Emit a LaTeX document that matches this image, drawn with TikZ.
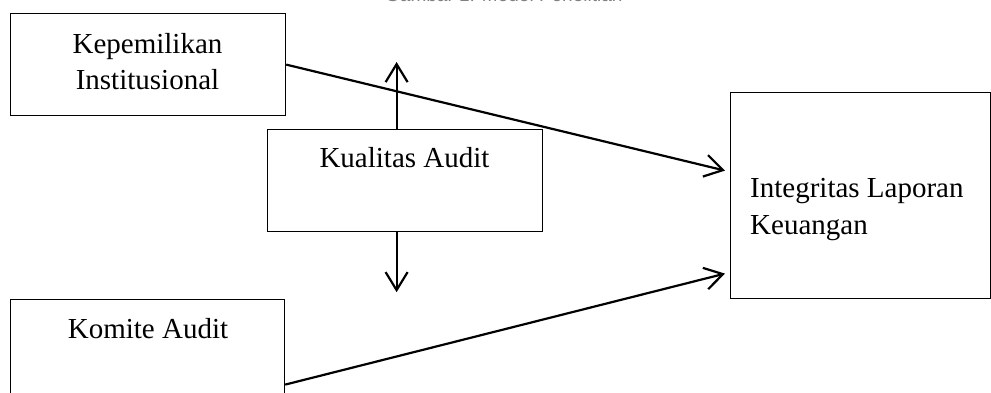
\documentclass[tikz,border=0pt]{standalone}
\usepackage{fontspec}
\setmainfont{Liberation Serif}
\newfontfamily\capfont{Liberation Sans}
\usetikzlibrary{arrows.meta}
\begin{document}
\begin{tikzpicture}[x=1pt,y=-1pt,
  box/.style={draw, line width=1.2pt, inner sep=0pt, anchor=north west},
  lbl/.style={font=\fontsize{29}{36.5}\selectfont, inner sep=0pt, anchor=base},
  conn/.style={line width=2.2pt, -{Straight Barb[length=18pt,width=22pt,line width=2.2pt]}}]
\useasboundingbox (0,0) rectangle (991,392);
% caption, mostly cut off above the page
\node[font=\capfont\fontsize{19}{22}\selectfont, text=gray, anchor=base west, inner sep=0pt] (cap) at (385,1) {Gambar 1. Model Penelitian};
% boxes
\node[box, minimum width=275pt, minimum height=102pt] (kep) at (10,13) {};
\node[box, minimum width=275pt, minimum height=102pt] (kual) at (267,129) {};
\node[box, minimum width=274pt, minimum height=170pt] (kom) at (10,299) {};
\node[box, minimum width=260pt, minimum height=206pt] (integ) at (730,92) {};
% texts
\node[lbl] (t1) at (147.5,53) {Kepemilikan};
\node[lbl] (t2) at (147.5,89) {Institusional};
\node[lbl] (t3) at (404.5,167) {Kualitas Audit};
\node[lbl] (t4) at (148,338) {Komite Audit};
\node[lbl, anchor=base west] (t5) at (750,197) {Integritas Laporan};
\node[lbl, anchor=base west] (t6) at (750,234) {Keuangan};
% connectors
\draw[conn] (kep.east) -- ([xshift=-5pt,yshift=25pt]integ.west);
\draw[conn] (kom.east) -- ([xshift=-5pt,yshift=-78pt]integ.west);
\draw[conn] ([xshift=-8.5pt]kual.north) -- ++(0,-67);
\draw[conn] ([xshift=-8.5pt]kual.south) -- ++(0,60);
\end{tikzpicture}
\end{document}
